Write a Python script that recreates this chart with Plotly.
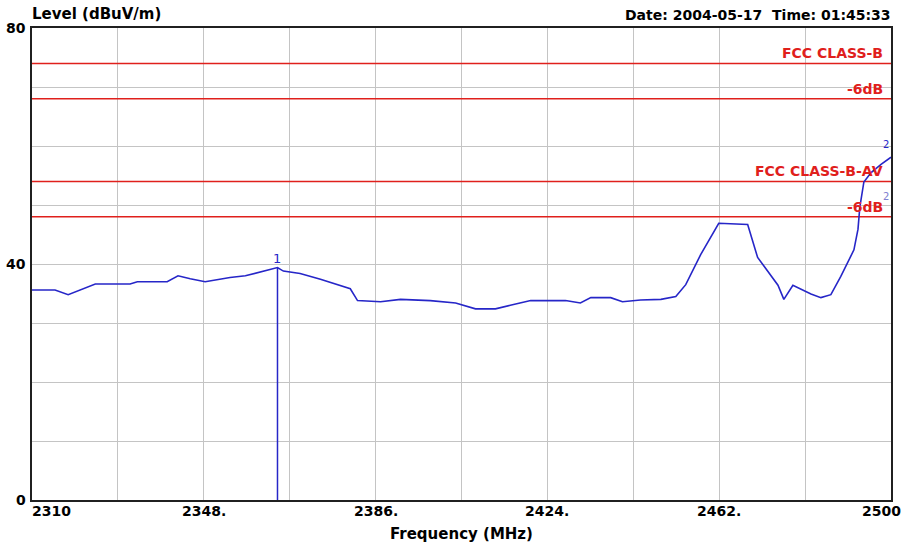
import plotly.graph_objects as go

# ---- data ----
freq_mhz = [2310.0, 2315.1, 2318.0, 2324.0, 2331.7, 2333.3, 2339.9, 2342.3, 2345.0, 2348.3,
            2353.8, 2357.2, 2364.3, 2365.6, 2369.3, 2373.8, 2380.4, 2382.0, 2387.1, 2391.5,
            2398.1, 2403.7, 2408.1, 2412.5, 2415.8, 2420.3, 2428.0, 2431.3, 2433.6, 2438.0,
            2440.6, 2444.6, 2449.1, 2452.4, 2454.6, 2457.9, 2461.9, 2468.3, 2470.5, 2475.0,
            2476.3, 2478.3, 2482.3, 2484.5, 2486.7, 2488.9, 2491.8, 2492.7, 2493.1, 2494.0,
            2495.6, 2497.8, 2500.0]
level_dbuv = [35.6, 35.6, 34.8, 36.6, 36.6, 37.0, 37.0, 38.0, 37.5, 37.0,
              37.7, 38.0, 39.4, 38.8, 38.4, 37.4, 35.8, 33.8, 33.6, 34.0,
              33.8, 33.4, 32.4, 32.4, 33.0, 33.8, 33.8, 33.4, 34.3, 34.3,
              33.6, 33.9, 34.0, 34.5, 36.5, 41.6, 46.9, 46.7, 41.1, 36.4,
              34.0, 36.4, 34.9, 34.3, 34.8, 37.9, 42.4, 45.9, 49.6, 53.9,
              55.5, 56.9, 58.1]

marker1_freq = 2364.3
marker1_level = 39.4

limit_levels = [74, 68, 54, 48]
limit_labels = ["FCC CLASS-B", "-6dB", "FCC CLASS-B-AV", "-6dB"]

x_tick_vals = [2310, 2348, 2386, 2424, 2462, 2500]
x_tick_text = ["2310", "2348.", "2386.", "2424.", "2462.", "2500"]
y_tick_vals = [0, 40, 80]
y_tick_text = ["0", "40", "80"]

x_min, x_max, x_step = 2310, 2500, 19
y_min, y_max, y_step = 0, 80, 10

RED = "#e0201c"
BLUE = "#2626c8"
FONT = "DejaVu Sans"

fig = go.Figure()

# limit lines
for lv in limit_levels:
    fig.add_trace(go.Scatter(x=[x_min, x_max], y=[lv, lv], mode="lines",
                             line=dict(color=RED, width=1.5), hoverinfo="skip",
                             showlegend=False))

# marker 1 vertical line
fig.add_trace(go.Scatter(x=[marker1_freq, marker1_freq], y=[0, marker1_level], mode="lines",
                         line=dict(color=BLUE, width=1.5), showlegend=False))

# measurement trace
fig.add_trace(go.Scatter(x=freq_mhz, y=level_dbuv, mode="lines",
                         line=dict(color=BLUE, width=1.6), showlegend=False))

annotations = []
for lv, txt in zip(limit_levels, limit_labels):
    annotations.append(dict(x=1, xref="paper", y=lv, yref="y", text=txt,
                            xanchor="right", yanchor="bottom", xshift=-6, yshift=0,
                            showarrow=False,
                            font=dict(family=FONT, size=14, color=RED, weight="bold")))

# x tick labels
for i, (v, t) in enumerate(zip(x_tick_vals, x_tick_text)):
    if i == 0:
        anchor, shift = "left", -2
    elif i == len(x_tick_vals) - 1:
        anchor, shift = "right", 12
    else:
        anchor, shift = "center", 0
    annotations.append(dict(x=v, xref="x", y=0, yref="paper", text=t,
                            xanchor=anchor, yanchor="top", xshift=shift, yshift=-1,
                            showarrow=False,
                            font=dict(family=FONT, size=14, color="black", weight="bold")))

# marker labels
annotations.append(dict(x=marker1_freq, xref="x", y=marker1_level, yref="y", text="1",
                        xanchor="center", yanchor="bottom", yshift=0, showarrow=False,
                        font=dict(family=FONT, size=13, color=BLUE)))
annotations.append(dict(x=1, xref="paper", y=60.3, yref="y", text="2",
                        xanchor="right", yanchor="middle", xshift=0, showarrow=False,
                        font=dict(family=FONT, size=10, color=BLUE)))
annotations.append(dict(x=1, xref="paper", y=51.5, yref="y", text="2",
                        xanchor="right", yanchor="middle", xshift=0, showarrow=False,
                        font=dict(family=FONT, size=10, color="#8080d0")))

# titles
annotations.append(dict(x=0, xref="paper", y=1, yref="paper", text="Level (dBuV/m)",
                        xanchor="left", yanchor="bottom", yshift=3, xshift=-2, showarrow=False,
                        font=dict(family=FONT, size=15, color="black", weight="bold")))
annotations.append(dict(x=1, xref="paper", y=1, yref="paper",
                        text="Date: 2004-05-17&nbsp;&nbsp;Time: 01:45:33",
                        xanchor="right", yanchor="bottom", yshift=3, xshift=2, showarrow=False,
                        font=dict(family=FONT, size=14, color="black", weight="bold")))

fig.update_layout(
    width=905, height=550,
    margin=dict(l=32, r=12, t=28, b=47),
    paper_bgcolor="white", plot_bgcolor="white",
    annotations=annotations,
    xaxis=dict(range=[x_min, x_max], tick0=x_min, dtick=x_step, tickmode="linear",
               showticklabels=False, showgrid=True, gridcolor="#c4c4c4", gridwidth=1,
               zeroline=False, showline=True, linecolor="#202020", linewidth=2, mirror=True,
               ticks="",
               title=dict(text="Frequency (MHz)", standoff=27,
                          font=dict(family=FONT, size=15, color="black", weight="bold"))),
    yaxis=dict(range=[y_min, y_max], tick0=y_min, dtick=y_step, tickmode="linear",
               showticklabels=False, showgrid=True, gridcolor="#c4c4c4", gridwidth=1,
               zeroline=False, showline=True, linecolor="#202020", linewidth=2, mirror=True,
               ticks=""),
)

for v, t in zip(y_tick_vals, y_tick_text):
    fig.add_annotation(x=0, xref="paper", y=v, yref="y", text=t, xanchor="right",
                       yanchor="middle", xshift=-4, showarrow=False,
                       font=dict(family=FONT, size=14, color="black", weight="bold"))

fig.write_html("out.html",
               config={"displayModeBar": False},
               post_script="document.documentElement.style.margin='0';"
                           "document.body.style.margin='0';"
                           "document.body.style.overflow='hidden';")
